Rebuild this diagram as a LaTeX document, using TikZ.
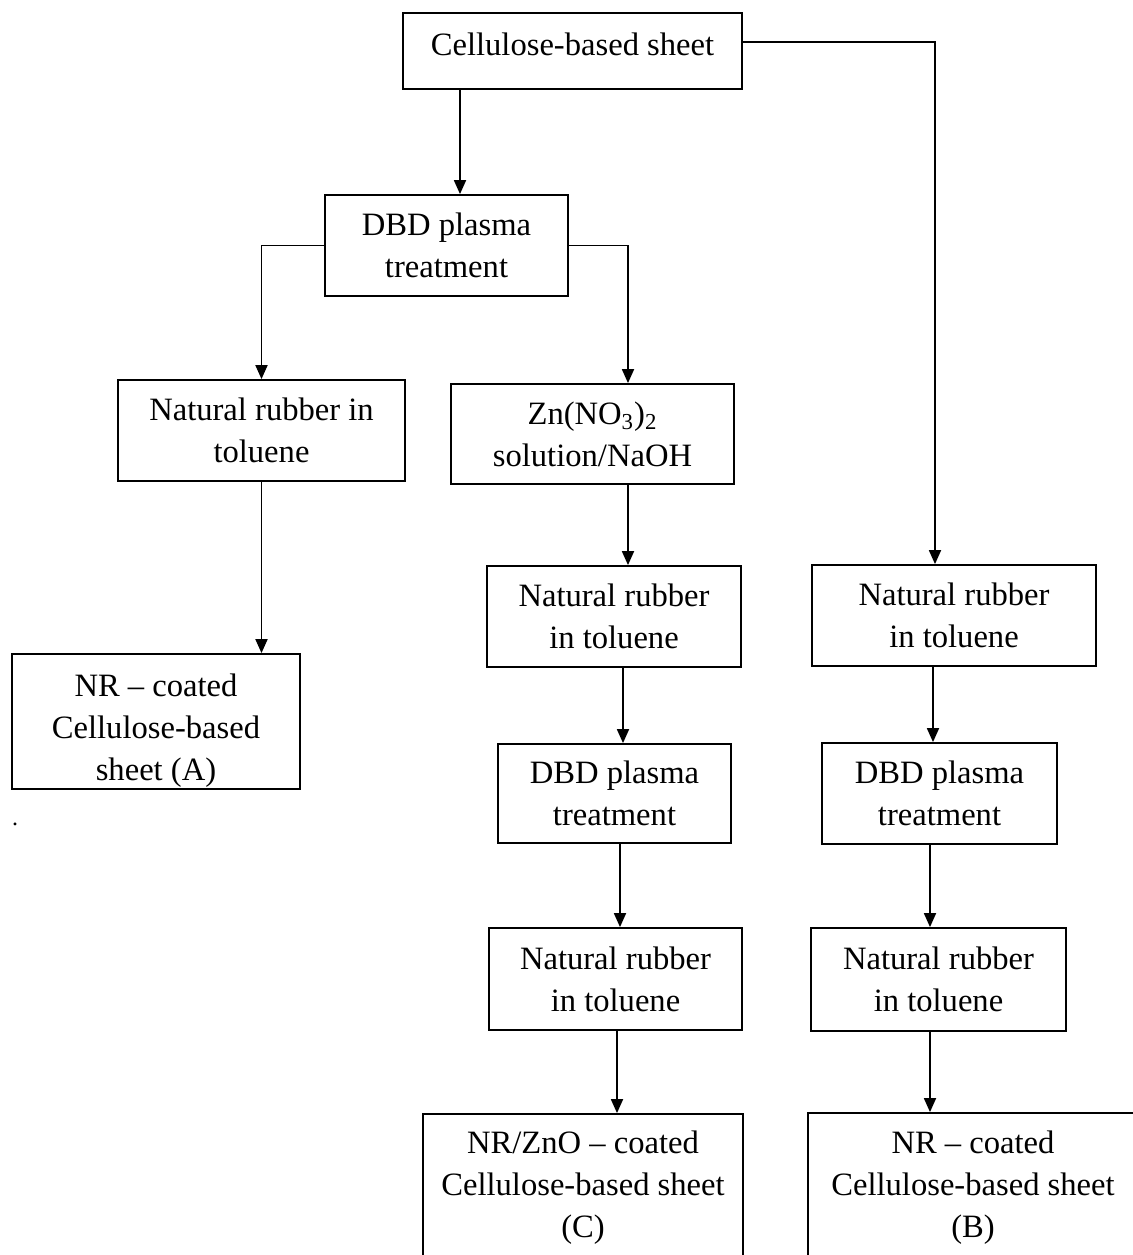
\documentclass[tikz,border=0pt]{standalone}
\usepackage{fontspec}
\setmainfont{Liberation Serif}
\usetikzlibrary{arrows.meta}

\tikzset{
	blk/.style 2 args={draw, line width=0.9pt, align=center, inner sep=0pt,
		minimum width=#1*0.5pt, minimum height=#2*0.5pt,
		font=\fontsize{16.3}{21}\selectfont},
	arr/.style={line width=0.9pt, -{Triangle[length=7pt, width=6pt]}}
}

\begin{document}
\begin{tikzpicture}[x=0.5pt, y=-0.5pt]
	\useasboundingbox (0,0) rectangle (1133,1255);
	% left branch
	\node[blk={339}{76}] (sheet) at (572.5,51) {\raisebox{3.5pt}[\height][\depth]{Cellulose-based sheet}};
	\node[blk={243}{101}] (dbd) at (446.5,245.5) {DBD plasma\\treatment};
	\node[blk={287}{101}] (nrA) at (261.5,430.5) {Natural rubber in\\toluene};
	\node[blk={288}{135}] (outA) at (156,721.5) {\raisebox{-4.5pt}[\height][\depth]{\begin{tabular}{@{}c@{}}NR \textendash{} coated\\Cellulose-based\\sheet (A)\end{tabular}}};
	\node[font=\large] (dot) at (15,824) {.};
	% middle branch
	\node[blk={283}{100}] (zn) at (592.5,434) {Zn(NO\textsubscript{3})\textsubscript{2}\\solution/NaOH};
	\node[blk={254}{101}] (nrC1) at (614,616.5) {Natural rubber\\in toluene};
	\node[blk={233}{99}] (dbdC) at (614.5,793.5) {DBD plasma\\treatment};
	\node[blk={253}{102}] (nrC2) at (615.5,979) {Natural rubber\\in toluene};
	\node[blk={320}{148}] (outC) at (583,1188) {NR/ZnO \textendash{} coated\\Cellulose-based sheet\\(C)};
	% right branch
	\node[blk={284}{101}] (nrB1) at (954,615.5) {Natural rubber\\in toluene};
	\node[blk={235}{101}] (dbdB) at (939.5,793.5) {DBD plasma\\treatment};
	\node[blk={255}{103}] (nrB2) at (938.5,979.5) {Natural rubber\\in toluene};
	\node[blk={330}{150}] (outB) at (973,1188) {NR \textendash{} coated\\Cellulose-based sheet\\(B)};

	\coordinate (turn) at (935,42);
	\draw[arr] (sheet.east |- turn) -- (turn) -- (turn |- nrB1.north);
	\draw[arr] (460,0 |- sheet.south) -- (460,0 |- dbd.north);
	\draw[arr] (dbd.west) -| (nrA.north);
	\draw[arr] (dbd.east) -| (628,0 |- zn.north);
	\draw[arr] (nrA.south) -- (nrA.south |- outA.north);
	\foreach \x/\a/\b in {628/zn/nrC1, 623/nrC1/dbdC, 620/dbdC/nrC2, 617/nrC2/outC,
		933/nrB1/dbdB, 930/dbdB/nrB2, 930/nrB2/outB}
		\draw[arr] (\x,0 |- \a.south) -- (\x,0 |- \b.north);
\end{tikzpicture}
\end{document}
